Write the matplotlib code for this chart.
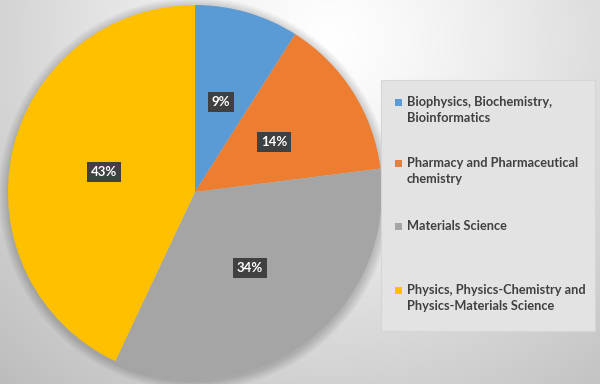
import numpy as np
import matplotlib
matplotlib.use("Agg")
import matplotlib.pyplot as plt
from matplotlib.patches import Rectangle, Circle

categories = ["Biophysics, Biochemistry,\nBioinformatics",
              "Pharmacy and Pharmaceutical\nchemistry",
              "Materials Science",
              "Physics, Physics-Chemistry and\nPhysics-Materials Science"]
values = [9, 14, 34, 43]
colors = ["#5b9bd5", "#ed7d31", "#a5a5a5", "#ffc000"]

W, H = 600, 384
fig = plt.figure(figsize=(6, 3.84), dpi=100)
ax = fig.add_axes([0, 0, 1, 1])

# radial gradient background
yy, xx = np.mgrid[0:H, 0:W]
d = np.hypot(xx - 330, yy - (H - 40))
val = 255 - 64 * np.clip(d / 460, 0, 1.3) ** 1.2
val = np.clip(val, 185, 255) / 255.0
img = np.dstack([val, val, val])
ax.imshow(img, extent=[0, W, 0, H], origin="lower", zorder=0, aspect="auto")

cx, cy, R = 195, H - 192, 187

# soft shadow
for i in range(8):
    ax.add_patch(Circle((cx, cy - 2), R + 1 + i * 1.2, color="black",
                        alpha=0.025, lw=0, zorder=1))

wedges, _, autotexts = ax.pie(values, colors=colors, startangle=90,
                              counterclock=False, center=(cx, cy), radius=R,
                              autopct=lambda p: f"{p:.0f}%", pctdistance=0.5,
                              wedgeprops=dict(linewidth=0, zorder=2),
                              textprops=dict(color="white", fontsize=9.5,
                                             fontweight="bold", family="Lato"))
for t in autotexts:
    t.set_zorder(5)
    t.set_bbox(dict(boxstyle="square,pad=0.3", fc="#404040", ec="none"))

ax.set_xlim(0, W)
ax.set_ylim(0, H)
ax.set_aspect("equal", adjustable="box")
ax.axis("off")

# legend box
ax.add_patch(Rectangle((381, H - 331), 214, 251, fc="#e3e3e3", ec="#d5d5d5",
                       lw=0.8, zorder=3))
leg_y = [110, 171, 226, 298]
for lab, col, y in zip(categories, colors, leg_y):
    nlines = lab.count("\n") + 1
    ytop = y - (nlines - 1) * 8
    ax.add_patch(Rectangle((395, H - ytop - 4), 7, 7, fc=col, ec="none", zorder=4))
    ax.text(407, H - y, lab, ha="left", va="center", fontsize=9.2,
            fontweight="bold", color="#404040", family="Lato",
            linespacing=1.35, zorder=4)

fig.savefig("out.png", dpi=100)
